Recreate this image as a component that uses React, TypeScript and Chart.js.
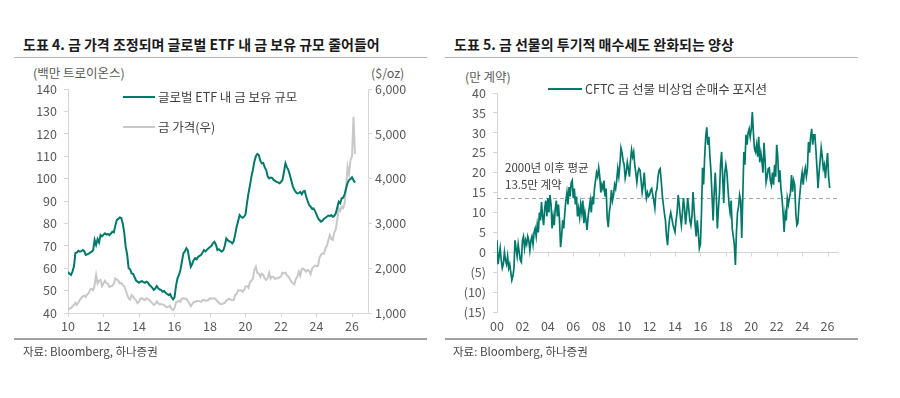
import React, { useEffect, useRef } from 'react';
import { Chart, registerables } from 'chart.js';

Chart.register(...registerables);

const FONT = "'Noto Sans CJK KR', 'Noto Sans', sans-serif";
const GREEN = '#00786a';
const GOLD_GRAY = '#c8c8c8';
const AXIS = '#d6d6d6';
const TICK_TEXT = '#595959';

// ---------- Chart 4: global gold ETF holdings (mn troy oz, monthly from Jan 2010) ----------
const etfStartYear = 2010;
const etfHoldings = [
  58.4, 57.5, 57.0, 58.5, 60.7, 66.8, 67.0, 67.8, 67.4, 67.6, 68.1, 67.6, // 2010
  65.9, 66.2, 66.5, 67.0, 67.4, 68.0, 72.6, 70.4, 73.0, 71.5, 74.8, 74.2, // 2011
  75.0, 75.6, 75.0, 75.3, 74.8, 75.5, 76.3, 76.0, 79.0, 81.5, 82.0, 82.7, // 2012
  82.4, 80.0, 76.0, 69.6, 66.0, 60.0, 59.5, 57.7, 57.5, 56.0, 54.5, 54.0, // 2013
  53.5, 54.0, 54.2, 53.8, 53.5, 54.0, 53.6, 52.5, 52.0, 51.2, 50.3, 51.0, // 2014
  52.0, 51.0, 50.5, 50.2, 49.5, 49.8, 49.0, 48.5, 48.0, 48.5, 47.0, 46.1, // 2015
  47.0, 52.0, 55.5, 57.0, 59.2, 63.0, 66.6, 67.5, 68.9, 68.0, 64.0, 60.7, // 2016
  62.0, 63.7, 64.5, 64.0, 65.1, 65.5, 66.0, 67.0, 68.1, 67.5, 68.3, 68.9, // 2017
  69.5, 70.0, 71.2, 71.8, 70.5, 68.1, 68.5, 67.8, 67.4, 68.0, 70.0, 73.3, // 2018
  72.5, 72.0, 71.8, 71.1, 72.0, 75.0, 78.5, 81.0, 83.7, 83.0, 82.5, 83.0, // 2019
  84.0, 89.0, 93.4, 97.0, 100.9, 104.0, 107.6, 110.0, 111.0, 110.5, 108.0, 106.8, // 2020
  107.0, 105.0, 103.8, 101.0, 100.1, 100.5, 100.3, 99.4, 99.0, 98.5, 98.3, 97.9, // 2021
  98.5, 99.4, 103.0, 106.8, 105.0, 103.8, 101.5, 99.0, 96.4, 95.0, 94.0, 93.4, // 2022
  93.5, 94.0, 93.0, 94.2, 94.5, 92.0, 90.0, 88.2, 87.5, 86.5, 86.7, 85.5, // 2023
  84.0, 82.3, 81.5, 80.8, 81.2, 82.0, 82.5, 83.0, 83.5, 83.3, 83.7, 83.0, // 2024
  83.3, 84.5, 87.0, 89.7, 89.0, 91.2, 91.5, 93.0, 95.7, 98.0, 99.4, 99.8, // 2025
  100.6, 99.3, 98.2, // 2026
];

// gold price ($/oz, monthly from Jan 2010)
const goldStartYear = 2010;
const goldPrice = [
  1067, 1100, 1110, 1150, 1179, 1230, 1180, 1230, 1290, 1340, 1370, 1390, // 2010
  1360, 1420, 1440, 1530, 1540, 1510, 1620, 1848, 1663, 1720, 1737, 1600, // 2011
  1660, 1720, 1670, 1650, 1580, 1600, 1610, 1650, 1775, 1750, 1720, 1663, // 2012
  1670, 1620, 1600, 1514, 1410, 1328, 1300, 1400, 1364, 1320, 1280, 1220, // 2013
  1253, 1320, 1330, 1300, 1290, 1328, 1310, 1290, 1253, 1220, 1179, 1200, // 2014
  1260, 1217, 1190, 1200, 1190, 1180, 1142, 1130, 1142, 1160, 1090, 1067, // 2015
  1110, 1230, 1253, 1280, 1250, 1320, 1328, 1320, 1320, 1270, 1217, 1150, // 2016
  1200, 1250, 1245, 1270, 1265, 1260, 1250, 1290, 1290, 1270, 1280, 1290, // 2017
  1330, 1320, 1325, 1328, 1300, 1260, 1230, 1200, 1195, 1217, 1220, 1280, // 2018
  1300, 1320, 1300, 1285, 1290, 1400, 1420, 1510, 1500, 1510, 1470, 1517, // 2019
  1588, 1600, 1560, 1690, 1720, 1770, 1960, 2034, 1890, 1886, 1810, 1880, // 2020
  1850, 1770, 1737, 1780, 1900, 1770, 1811, 1800, 1760, 1780, 1774, 1800, // 2021
  1820, 1900, 1886, 1900, 1840, 1811, 1760, 1700, 1663, 1640, 1760, 1810, // 2022
  1920, 1830, 1980, 1990, 1960, 1920, 1960, 1940, 1870, 1990, 2030, 2060, // 2023
  2040, 2050, 2230, 2300, 2330, 2330, 2440, 2500, 2630, 2740, 2650, 2630, // 2024
  2800, 2860, 3076, 3337, 3280, 3373, 3340, 3450, 3819, 4265, 4100, 4415, // 2025
  4500, 5382, 4550, // 2026
];

const etfXTicks = [2010, 2012, 2014, 2016, 2018, 2020, 2022, 2024, 2026];
const etfYTicks = [40, 50, 60, 70, 80, 90, 100, 110, 120, 130, 140];
const goldYTicks = [1000, 2000, 3000, 4000, 5000, 6000];

// ---------- Chart 5: CFTC non-commercial net long (10k contracts, monthly from Jan 2000) ----------
const cftcStartYear = 2000;
const cftcNetLong = [
  3, -3, -1, 1, -2, -4, -3, 0, -2, -3, -1, -4, // 2000
  -3, -5, -7, -6, -4, 3, 1, -1, 2, 0, -2, -2.5, // 2001
  3, 4, 1, 3, 2, 4, 3, 0.5, 3, 4, 2, 5, // 2002
  6, 4, 7, 5, 10, 8, 12.6, 9, 6.8, 11, 13, 9, // 2003
  13.6, 10, 14.4, 12, 6, 9, 6.8, 11, 13, 9, 12, 8, // 2004
  1.3, 4, 8, 6, 10, 13, 15, 12, 16.4, 14, 17.4, 18, // 2005
  13.6, 16, 12, 14, 9, 11, 8.8, 12, 10, 13, 7.3, 10, // 2006
  8, 5.6, 9, 11, 13, 10, 14, 12, 16, 18, 20, 19, // 2007
  21.2, 19, 15, 17, 16, 18, 14, 16, 8.6, 6.3, 10, 12, // 2008
  15.6, 13, 14.4, 17, 16, 18.1, 21, 19, 22, 26.2, 25, 23, // 2009
  22, 18.6, 20, 22.6, 21, 19, 23, 25.7, 24, 25.2, 22, 20, // 2010
  17.6, 20, 21, 20.6, 18, 15.1, 17, 20, 16, 13.6, 15, 14, // 2011
  14.4, 15.6, 16, 14.4, 13, 11.1, 15, 16, 19, 20.6, 21, 18, // 2012
  14.4, 12, 9.8, 8, 4, 1.8, 6, 8.6, 10, 8.6, 7, 6, // 2013
  5.1, 8, 10, 14.4, 12, 9, 6.8, 10, 13.6, 11, 7, 10, // 2014
  13.6, 11, 8, 6.8, 9, 15.1, 11, 7, 4, 8, 5, 1, // 2015
  2, 10, 21.2, 17, 24, 29, 31.4, 27, 29, 24, 20, 14, // 2016
  8, 15, 20, 14, 6, 11, 15, 22, 25.2, 19, 12.4, 20, // 2017
  22, 20, 16, 12, 10, 13, 6, 4, 2, -3.2, 5, 10, // 2018
  11.4, 14.4, 13, 3.6, 14, 25.2, 22, 29.5, 27, 30, 31, 29, // 2019
  31, 35.2, 30, 26, 25.2, 27, 24, 29, 22.6, 25, 23, 20, // 2020
  27.5, 23.2, 17.6, 19, 21, 21.2, 18, 16.9, 20, 17, 22, 19, // 2021
  27, 24, 17.6, 20.6, 16, 13.6, 10, 5.1, 9.8, 8, 13.6, 12, // 2022
  13.6, 15, 19.4, 15.2, 18, 16.9, 10, 6.8, 7.3, 12, 15, 18, // 2023
  20, 17, 19.9, 21.2, 19, 21, 27.7, 25, 29, 31, 27, 29.5, // 2024
  29.5, 25.7, 21.2, 16.1, 20, 23, 26.2, 24, 21, 22, 18.6, 22, // 2025
  24.9, 19, 16.1, // 2026
];
const cftcAverage = 13.5;
const cftcXTicks = [2000, 2002, 2004, 2006, 2008, 2010, 2012, 2014, 2016, 2018, 2020, 2022, 2024, 2026];
const cftcYTicks = [-15, -10, -5, 0, 5, 10, 15, 20, 25, 30, 35, 40];

const axisEnd = 2026.9;

const toMonthly = (start: number, values: number[]) =>
  values.map((v, i) => ({ x: start + i / 12, y: v }));

const tickFont = { family: FONT, size: 12.5 };
const yearLabel = (v: any) => String(Number(v) % 100).padStart(2, '0');

function LeftChart() {
  const ref = useRef<HTMLCanvasElement>(null);
  useEffect(() => {
    const chart = new Chart(ref.current as HTMLCanvasElement, {
      type: 'line',
      data: {
        datasets: [
          {
            label: '글로벌 ETF 내 금 보유 규모',
            data: toMonthly(etfStartYear, etfHoldings),
            borderColor: GREEN,
            borderWidth: 2,
            pointRadius: 0,
            yAxisID: 'y',
            order: 1,
          },
          {
            label: '금 가격(우)',
            data: toMonthly(goldStartYear, goldPrice),
            borderColor: GOLD_GRAY,
            borderWidth: 2,
            pointRadius: 0,
            yAxisID: 'y2',
            order: 2,
          },
        ],
      },
      options: {
        responsive: false,
        animation: false,
        layout: { padding: { top: 19, left: 0, right: 0, bottom: 0 } },
        plugins: { legend: { display: false }, tooltip: { enabled: false } },
        scales: {
          x: {
            type: 'linear',
            min: etfStartYear,
            max: axisEnd,
            afterBuildTicks: (s: any) => { s.ticks = etfXTicks.map((v) => ({ value: v })); },
            afterFit: (s: any) => { s.height = 27; },
            grid: { drawOnChartArea: false, drawTicks: true, tickLength: 4, color: AXIS },
            border: { display: true, color: AXIS },
            ticks: { font: tickFont, color: TICK_TEXT, padding: 1.5, maxRotation: 0, callback: yearLabel },
          },
          y: {
            position: 'left',
            min: 40,
            max: 140,
            afterBuildTicks: (s: any) => { s.ticks = etfYTicks.map((v) => ({ value: v })); },
            afterFit: (s: any) => { s.width = 50; },
            grid: { drawOnChartArea: false, drawTicks: true, tickLength: 4, color: AXIS },
            border: { display: true, color: AXIS },
            ticks: { font: tickFont, color: TICK_TEXT, padding: 7 },
          },
          y2: {
            position: 'right',
            min: 1000,
            max: 6000,
            afterBuildTicks: (s: any) => { s.ticks = goldYTicks.map((v) => ({ value: v })); },
            afterFit: (s: any) => { s.width = 60; },
            grid: { drawOnChartArea: false, drawTicks: true, tickLength: 4, color: AXIS },
            border: { display: true, color: AXIS },
            ticks: {
              font: tickFont,
              color: TICK_TEXT,
              padding: 3,
              callback: (v: any) => Number(v).toLocaleString('en-US'),
            },
          },
        },
      },
    } as any);
    return () => chart.destroy();
  }, []);
  return (
    <canvas
      ref={ref}
      width={410}
      height={270}
      style={{ position: 'absolute', left: 18, top: 70, width: 410, height: 270 }}
    />
  );
}

const zeroAxisPlugin = {
  id: 'zeroAxis',
  beforeDatasetsDraw(chart: any) {
    const { ctx, chartArea, scales } = chart;
    const y0 = Math.round(scales.y.getPixelForValue(0)) + 0.5;
    ctx.save();
    ctx.strokeStyle = AXIS;
    ctx.lineWidth = 1;
    ctx.beginPath();
    ctx.moveTo(chartArea.left, y0);
    ctx.lineTo(chartArea.right, y0);
    cftcXTicks.forEach((t) => {
      const px = Math.round(scales.x.getPixelForValue(t)) + 0.5;
      ctx.moveTo(px, y0);
      ctx.lineTo(px, y0 + 4);
    });
    ctx.stroke();
    ctx.restore();
  },
};

function RightChart() {
  const ref = useRef<HTMLCanvasElement>(null);
  useEffect(() => {
    const chart = new Chart(ref.current as HTMLCanvasElement, {
      type: 'line',
      data: {
        datasets: [
          {
            label: 'CFTC 금 선물 비상업 순매수 포지션',
            data: toMonthly(cftcStartYear, cftcNetLong),
            borderColor: GREEN,
            borderWidth: 1.7,
            pointRadius: 0,
            order: 1,
          },
          {
            label: '2000년 이후 평균',
            data: [
              { x: cftcStartYear, y: cftcAverage },
              { x: axisEnd, y: cftcAverage },
            ],
            borderColor: '#a8a8a8',
            borderWidth: 1,
            borderDash: [4, 3],
            pointRadius: 0,
            order: 2,
          },
        ],
      },
      options: {
        responsive: false,
        animation: false,
        layout: { padding: { top: 23, left: 0, right: 19, bottom: 0 } },
        plugins: { legend: { display: false }, tooltip: { enabled: false } },
        scales: {
          x: {
            type: 'linear',
            min: cftcStartYear,
            max: axisEnd,
            afterBuildTicks: (s: any) => { s.ticks = cftcXTicks.map((v) => ({ value: v })); },
            afterFit: (s: any) => { s.height = 28; },
            grid: { display: false, drawTicks: false },
            border: { display: false },
            ticks: { font: tickFont, color: TICK_TEXT, padding: 6.5, maxRotation: 0, callback: yearLabel },
          },
          y: {
            position: 'left',
            min: -15,
            max: 40,
            afterBuildTicks: (s: any) => { s.ticks = cftcYTicks.map((v) => ({ value: v })); },
            afterFit: (s: any) => { s.width = 49; },
            grid: { drawOnChartArea: false, drawTicks: true, tickLength: 4, color: AXIS },
            border: { display: true, color: AXIS },
            ticks: {
              font: tickFont,
              color: TICK_TEXT,
              padding: 7,
              callback: (v: any) => (Number(v) < 0 ? `(${-Number(v)})` : String(v)),
            },
          },
        },
      },
      plugins: [zeroAxisPlugin],
    } as any);
    return () => chart.destroy();
  }, []);
  return (
    <canvas
      ref={ref}
      width={410}
      height={270}
      style={{ position: 'absolute', left: 448, top: 70, width: 410, height: 270 }}
    />
  );
}

function Txt(props: { left: number; cy: number; size: number; weight?: number; color?: string; children: any }) {
  const lh = Math.round(props.size * 1.4);
  return (
    <div
      style={{
        position: 'absolute',
        left: props.left,
        top: props.cy - lh / 2,
        fontSize: props.size,
        lineHeight: `${lh}px`,
        fontWeight: props.weight ?? 400,
        color: props.color ?? TICK_TEXT,
        fontFamily: FONT,
        whiteSpace: 'nowrap',
      }}
    >
      {props.children}
    </div>
  );
}

function Rule(props: { left: number; top: number; width: number; height: number; color: string }) {
  return (
    <div
      style={{
        position: 'absolute',
        left: props.left,
        top: props.top,
        width: props.width,
        height: props.height,
        background: props.color,
      }}
    />
  );
}

function Swatch(props: { left: number; cy: number; width: number; color: string }) {
  return <Rule left={props.left} top={props.cy - 1} width={props.width} height={2} color={props.color} />;
}

export default function App() {
  return (
    <div
      style={{
        position: 'absolute',
        left: 0,
        top: 0,
        width: 900,
        height: 398,
        background: '#ffffff',
        overflow: 'hidden',
        fontFamily: FONT,
      }}
    >
      {/* Left panel */}
      <Txt left={23} cy={44} size={14} weight={700} color="#1a1a1a">
        도표 4. 금 가격 조정되며 글로벌 ETF 내 금 보유 규모 줄어들어
      </Txt>
      <Rule left={14} top={57} width={413} height={1} color="#b4b4b4" />
      <Txt left={33} cy={73} size={12.5}>(백만 트로이온스)</Txt>
      <Txt left={371} cy={73} size={12.5}>($/oz)</Txt>
      <LeftChart />
      <Swatch left={123} cy={97} width={32} color={GREEN} />
      <Txt left={158} cy={97} size={12.5} color="#404040">글로벌 ETF 내 금 보유 규모</Txt>
      <Swatch left={123} cy={127} width={32} color={GOLD_GRAY} />
      <Txt left={158} cy={127} size={12.5} color="#404040">금 가격(우)</Txt>
      <Rule left={14} top={338} width={413} height={2} color="#a0a0a0" />
      <Txt left={23} cy={351} size={11.5} color="#444444">자료: Bloomberg, 하나증권</Txt>

      {/* Right panel */}
      <Txt left={454} cy={44} size={14} weight={700} color="#1a1a1a">
        도표 5. 금 선물의 투기적 매수세도 완화되는 양상
      </Txt>
      <Rule left={445} top={57} width={413} height={1} color="#b4b4b4" />
      <Txt left={465} cy={77} size={12.5}>(만 계약)</Txt>
      <RightChart />
      <Swatch left={548} cy={89} width={34} color={GREEN} />
      <Txt left={585} cy={89} size={12.5} color="#404040">CFTC 금 선물 비상업 순매수 포지션</Txt>
      <Txt left={505} cy={167} size={11.5} color="#404040">2000년 이후 평균</Txt>
      <Txt left={505} cy={184} size={11.5} color="#404040">13.5만 계약</Txt>
      <Rule left={445} top={338} width={413} height={2} color="#a0a0a0" />
      <Txt left={453} cy={351} size={11.5} color="#444444">자료: Bloomberg, 하나증권</Txt>
    </div>
  );
}
